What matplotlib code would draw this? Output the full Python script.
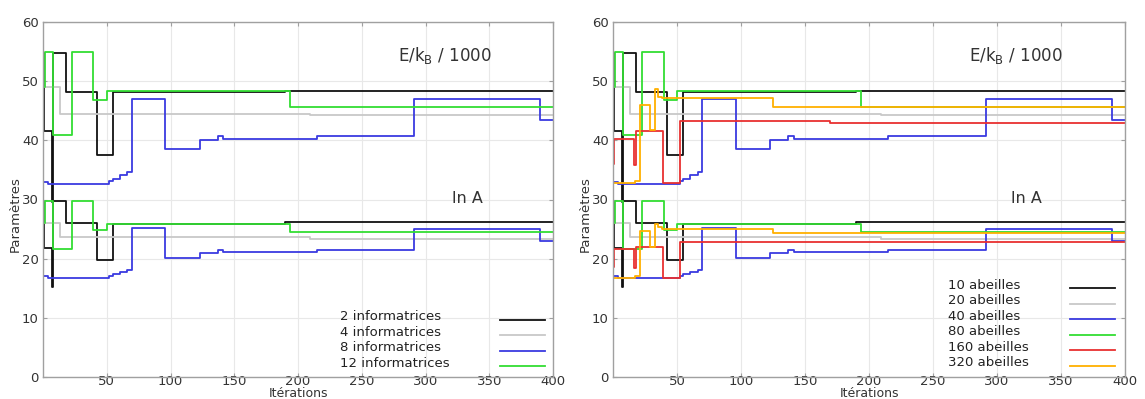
import matplotlib
matplotlib.use('Agg')
import matplotlib.pyplot as plt
from matplotlib.lines import Line2D

# breakpoints of the step curves (x = iteration, y = value)
x_black = [0, 1, 7, 7.8, 18, 42, 54.5, 190, 400]
e_black = [54.7, 41.5, 29.5, 54.7, 48.2, 37.5, 48.1, 48.4, 48.4]
a_black = [29.6, 21.8, 15.2, 29.7, 26.0, 19.7, 25.9, 26.2, 26.2]

x_gray = [0, 13.5, 209, 400]
e_gray = [49.0, 44.4, 44.2, 44.2]
a_gray = [26.1, 23.6, 23.4, 23.4]

x_blue = [0, 4, 52, 55, 60, 66, 69.5, 96, 123, 137, 141, 215, 291, 390, 400]
e_blue = [33.0, 32.6, 33.1, 33.5, 34.1, 34.6, 47.0, 38.5, 40.1, 40.7, 40.2, 40.7, 47.0, 43.4, 43.4]
a_blue = [17.1, 16.8, 17.1, 17.4, 17.7, 18.1, 25.2, 20.2, 21.0, 21.4, 21.1, 21.5, 25.1, 23.0, 23.0]

x_green = [0, 1.5, 8, 22.5, 39.5, 50, 193.5, 400]
e_green = [49.0, 55.0, 40.9, 54.9, 46.8, 48.3, 45.6, 45.6]
a_green = [26.0, 29.8, 21.7, 29.8, 24.9, 25.9, 24.5, 24.5]

x_red = [0, 1, 16.5, 18, 39.3, 52.3, 169.5, 400]
e_red = [36.0, 40.3, 35.8, 41.6, 32.8, 43.2, 43.0, 43.0]
a_red = [18.6, 21.6, 18.4, 21.9, 16.7, 22.9, 22.8, 22.8]

x_orange = [0, 17, 21, 29, 33, 35, 38, 124.8, 400]
e_orange = [32.8, 33.2, 46.0, 41.8, 48.6, 47.4, 47.1, 45.7, 45.7]
a_orange = [16.7, 17.0, 24.6, 22.0, 25.9, 25.3, 25.1, 24.4, 24.4]

col = {'black': '#111111', 'gray': '#c8c8c8', 'blue': '#3a3ae0',
       'green': '#33dd33', 'red': '#e83030', 'orange': '#ffb000'}

left_series = [
    ('2 informatrices', x_black, e_black, a_black, col['black']),
    ('4 informatrices', x_gray, e_gray, a_gray, col['gray']),
    ('8 informatrices', x_blue, e_blue, a_blue, col['blue']),
    ('12 informatrices', x_green, e_green, a_green, col['green']),
]
right_series = [
    ('10 abeilles', x_black, e_black, a_black, col['black']),
    ('20 abeilles', x_gray, e_gray, a_gray, col['gray']),
    ('40 abeilles', x_blue, e_blue, a_blue, col['blue']),
    ('80 abeilles', x_green, e_green, a_green, col['green']),
    ('160 abeilles', x_red, e_red, a_red, col['red']),
    ('320 abeilles', x_orange, e_orange, a_orange, col['orange']),
]

fig = plt.figure(figsize=(11.45, 3.99), dpi=100)
ax1 = fig.add_axes([0.0376, 0.055, 0.4454, 0.89])
ax2 = fig.add_axes([0.5354, 0.055, 0.4472, 0.89])

fs = 9.5
# legend layout (axes fraction): text x, line x0, x1, top row y, row step
leg_pos = {0: (0.582, 0.896, 0.984, 0.170, 0.0435),
           1: (0.654, 0.893, 0.980, 0.259, 0.0438)}
ln_x = {0: 333, 1: 323}

for i, (ax, series) in enumerate([(ax1, left_series), (ax2, right_series)]):
    for lab, xs, ey, ay, c in series:
        ax.plot(xs, ey, drawstyle='steps-post', color=c, lw=1.3)
        ax.plot(xs, ay, drawstyle='steps-post', color=c, lw=1.3)
    ax.set_xlim(0, 400)
    ax.set_ylim(0, 60)
    ax.set_xticks(range(50, 401, 50))
    ax.set_yticks(range(0, 61, 10))
    ax.grid(True, color='#e8e8e8', lw=0.8)
    ax.set_axisbelow(True)
    for s in ax.spines.values():
        s.set_color('#a0a0a0')
        s.set_linewidth(1.0)
    ax.tick_params(direction='in', top=True, right=True, length=3, color='#a0a0a0',
                   labelsize=fs, labelcolor='#333333')
    ax.tick_params(axis='x', pad=-1.5)
    ax.tick_params(axis='y', pad=3)
    ax.set_ylabel('Paramètres', fontsize=fs, color='#333333')
    ax.yaxis.set_label_coords(-0.041, 0.46)
    ax.set_xlabel('Itérations', fontsize=9, color='#333333')
    ax.xaxis.set_label_coords(0.5, -0.027)
    ax.text(315, 54.4, r'E/k$_\mathregular{B}$ / 1000', fontsize=12, color='#333333',
            ha='center', va='center')
    ax.text(ln_x[i], 30.2, 'ln A', fontsize=11.5, color='#333333',
            ha='center', va='center')

    # legend: labels on the left, line samples on the right
    tx, lx0, lx1, y0, dy = leg_pos[i]
    for k, (lab, xs, ey, ay, c) in enumerate(series):
        y = y0 - k * dy
        ax.text(tx, y, lab, transform=ax.transAxes, fontsize=fs, color='#222222',
                ha='left', va='center')
        ax.add_line(Line2D([lx0, lx1], [y - 0.009, y - 0.009], transform=ax.transAxes,
                           color=c, lw=1.3, clip_on=False))

fig.savefig('out.png', dpi=100)
